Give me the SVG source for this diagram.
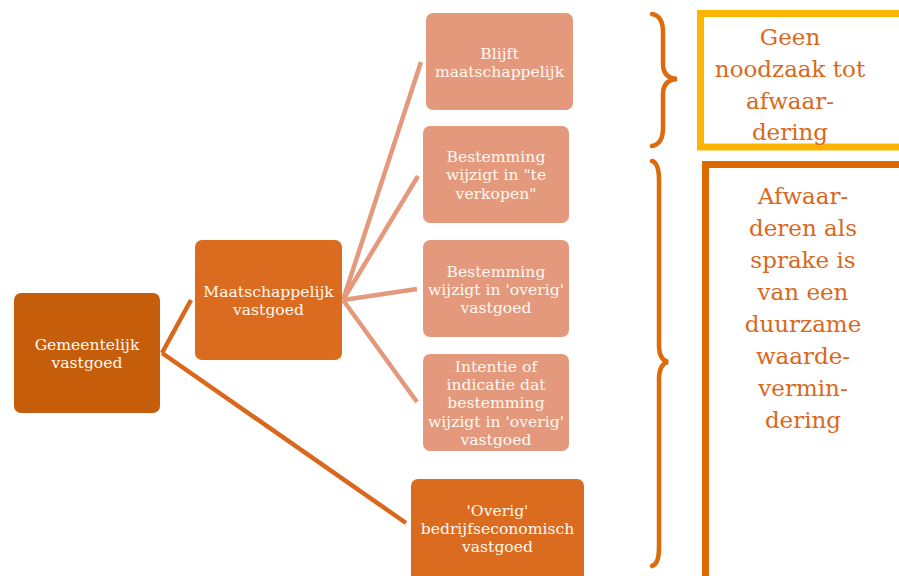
<svg xmlns="http://www.w3.org/2000/svg" width="899" height="576" viewBox="0 0 899 576">
<style>
.n1{fill:#C55D0A}
.n2{fill:#DB6B1E}
.lf{fill:#E4997C}
.nt{font-family:"DejaVu Serif","Liberation Serif",serif;font-size:15.6px;fill:#FFF8F2;text-anchor:middle}
.bt{font-family:"DejaVu Serif","Liberation Serif",serif;font-size:23px;fill:#D9681C;text-anchor:middle}
.cd{stroke:#D9681C;stroke-width:4.5;fill:none;stroke-linecap:butt}
.cl{stroke:#E4997C;stroke-width:4.5;fill:none}
.br{stroke:#DD6B0B;stroke-width:4.5;fill:none;stroke-linecap:round}
</style>
<g id="connectors">
<path class="cd" d="M162,353 L191,300 M162,353 L406,523"/>
<path class="cl" d="M343,300 L421,62 M343,300 L418,176 M343,300 L417,289 M343,300 L417,402"/>
</g>
<g id="node-gemeentelijk">
<rect class="n1" x="14" y="293" width="146" height="120" rx="7"/>
<text class="nt" x="87" y="350">Gemeentelijk</text>
<text class="nt" x="87" y="368">vastgoed</text>
</g>
<g id="node-maatschappelijk">
<rect class="n2" x="195" y="240" width="147" height="120" rx="7"/>
<text class="nt" x="268.5" y="297">Maatschappelijk</text>
<text class="nt" x="268.5" y="315">vastgoed</text>
</g>
<g id="leaf-blijft">
<rect class="lf" x="426" y="13" width="147" height="97" rx="7"/>
<text class="nt" x="499.5" y="59">Blijft</text>
<text class="nt" x="499.5" y="77">maatschappelijk</text>
</g>
<g id="leaf-verkopen">
<rect class="lf" x="423" y="126" width="146" height="97" rx="7"/>
<text class="nt" x="496" y="162">Bestemming</text>
<text class="nt" x="496" y="180">wijzigt in "te</text>
<text class="nt" x="496" y="199">verkopen"</text>
</g>
<g id="leaf-overig">
<rect class="lf" x="423" y="240" width="146" height="97" rx="7"/>
<text class="nt" x="496" y="277">Bestemming</text>
<text class="nt" x="496" y="295">wijzigt in 'overig'</text>
<text class="nt" x="496" y="313">vastgoed</text>
</g>
<g id="leaf-intentie">
<rect class="lf" x="423" y="354" width="146" height="97" rx="7"/>
<text class="nt" x="496" y="372">Intentie of</text>
<text class="nt" x="496" y="390">indicatie dat</text>
<text class="nt" x="496" y="408">bestemming</text>
<text class="nt" x="496" y="427">wijzigt in 'overig'</text>
<text class="nt" x="496" y="445">vastgoed</text>
</g>
<g id="node-bedrijfseconomisch">
<rect class="n2" x="411" y="479" width="173" height="105" rx="7"/>
<text class="nt" x="497.5" y="516">'Overig'</text>
<text class="nt" x="497.5" y="534">bedrijfseconomisch</text>
<text class="nt" x="497.5" y="552">vastgoed</text>
</g>
<g id="brace-top">
<path class="br" d="M652,14 Q663,16 663,32 L663,64 Q663,78 677,79 Q663,80 663,94 L663,128 Q663,144 652,146"/>
</g>
<g id="brace-bottom">
<path class="br" d="M652,161 Q659,163 659,180 L659,345 Q659,360 668,362 Q659,364 659,380 L659,548 Q659,564 652,566"/>
</g>
<g id="box-geen">
<rect x="700.5" y="13.5" width="210" height="133.5" fill="#FFFFFF" stroke="#FFB400" stroke-width="7"/>
<text class="bt" x="790" y="45">Geen</text>
<text class="bt" x="790" y="77">noodzaak tot</text>
<text class="bt" x="790" y="109">afwaar-</text>
<text class="bt" x="790" y="140">dering</text>
</g>
<g id="box-afwaarderen">
<rect x="705.5" y="164.5" width="210" height="420" fill="#FFFFFF" stroke="#DD6A00" stroke-width="7"/>
<text class="bt" x="803" y="204">Afwaar-</text>
<text class="bt" x="803" y="236">deren als</text>
<text class="bt" x="803" y="268">sprake is</text>
<text class="bt" x="803" y="300">van een</text>
<text class="bt" x="803" y="332">duurzame</text>
<text class="bt" x="803" y="364">waarde-</text>
<text class="bt" x="803" y="396">vermin-</text>
<text class="bt" x="803" y="428">dering</text>
</g>
</svg>
